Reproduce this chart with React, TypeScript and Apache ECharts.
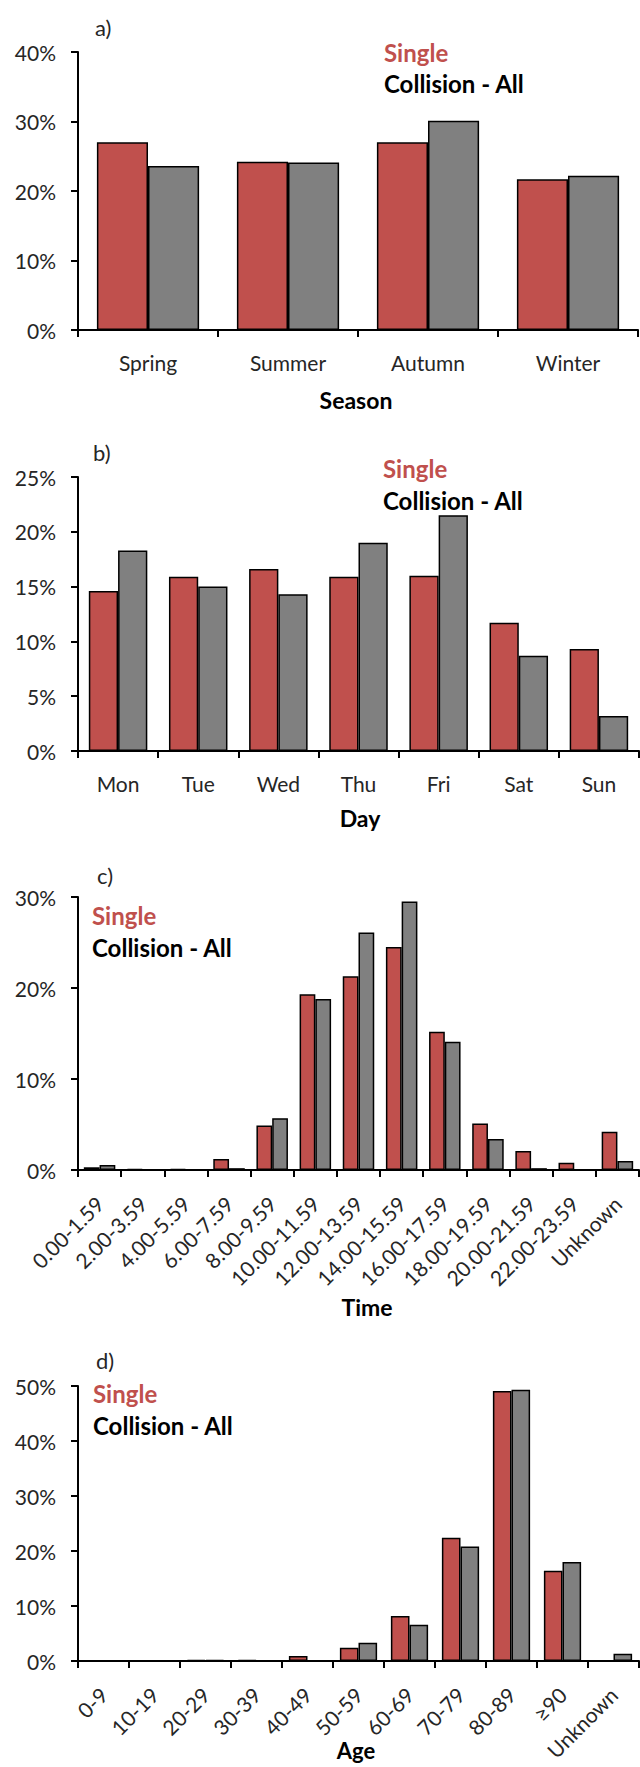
import React, { useEffect, useRef } from "react";
import * as echarts from "echarts";

const seasons = ["Spring", "Summer", "Autumn", "Winter"];
const seasonSingle = [27.0, 24.2, 27.0, 21.7];
const seasonCollision = [23.6, 24.1, 30.1, 22.2];

const days = ["Mon", "Tue", "Wed", "Thu", "Fri", "Sat", "Sun"];
const daySingle = [14.6, 15.9, 16.6, 15.9, 16.0, 11.7, 9.3];
const dayCollision = [18.3, 15.0, 14.3, 19.0, 21.5, 8.7, 3.2];

const times = [
  "0.00-1.59", "2.00-3.59", "4.00-5.59", "6.00-7.59", "8.00-9.59", "10.00-11.59",
  "12.00-13.59", "14.00-15.59", "16.00-17.59", "18.00-19.59", "20.00-21.59", "22.00-23.59", "Unknown",
];
const timeSingle = [0.3, 0.1, 0.1, 1.2, 4.9, 19.3, 21.3, 24.5, 15.2, 5.1, 2.1, 0.8, 4.2];
const timeCollision = [0.55, 0, 0, 0.2, 5.7, 18.8, 26.1, 29.5, 14.1, 3.4, 0.2, 0, 1.0];

const ages = ["0-9", "10-19", "20-29", "30-39", "40-49", "50-59", "60-69", "70-79", "80-89", "≥90", "Unknown"];
const ageSingle = [0, 0, 0.2, 0.15, 0.9, 2.4, 8.2, 22.4, 49.1, 16.4, 0];
const ageCollision = [0, 0, 0.2, 0, 0, 3.3, 6.6, 20.8, 49.3, 18.0, 1.3];

const yMax = [40, 25, 30, 50];
const yInterval = [10, 5, 10, 10];
const axisNames = ["Season", "Day", "Time", "Age"];
const panelLabels = ["a)", "b)", "c)", "d)"];

const RED = "#C0504D";
const GRAY = "#808080";
const FONT = "Lato";
const TXT = "#262626";

export default function App() {
  const ref = useRef<HTMLDivElement>(null);
  useEffect(() => {
    if (!ref.current) return;
    const chart = echarts.init(ref.current, undefined, { renderer: "svg" });
    const grids = [
      { left: 78, top: 52, width: 560, height: 278 },
      { left: 78, top: 477, width: 561, height: 274 },
      { left: 78, top: 897, width: 561, height: 273 },
      { left: 78, top: 1386, width: 561, height: 275 },
    ];
    const cats = [seasons, days, times, ages];
    const singles = [seasonSingle, daySingle, timeSingle, ageSingle];
    const colls = [seasonCollision, dayCollision, timeCollision, ageCollision];
    const rotated = [false, false, true, true];

    const xAxis = cats.map((c, i) => ({
      type: "category",
      gridIndex: i,
      data: c,
      axisLine: { lineStyle: { color: "#000", width: 2 } },
      axisTick: { show: true, length: 7, lineStyle: { color: "#000", width: 2 } },
      axisLabel: {
        interval: 0,
        rotate: rotated[i] ? 45 : 0,
        margin: rotated[i] ? 30 : 22,
        fontFamily: FONT,
        fontSize: 21,
        color: TXT,
      },
    }));
    const yAxis = yMax.map((m, i) => ({
      type: "value",
      gridIndex: i,
      min: 0,
      max: m,
      interval: yInterval[i],
      splitLine: { show: false },
      axisLine: { show: true, lineStyle: { color: "#000", width: 2 } },
      axisTick: { show: true, length: 7, lineStyle: { color: "#000", width: 2 } },
      axisLabel: { formatter: "{value}%", fontFamily: FONT, fontSize: 21, color: TXT, margin: 22 },
    }));
    const series: any[] = [];
    for (let i = 0; i < 4; i++) {
      series.push({
        type: "bar",
        name: "Single",
        xAxisIndex: i,
        yAxisIndex: i,
        data: singles[i],
        barGap: "0%",
        barCategoryGap: "27%",
        itemStyle: { color: RED, borderColor: "#000", borderWidth: 1.5 },
      });
      series.push({
        type: "bar",
        name: "Collision - All",
        xAxisIndex: i,
        yAxisIndex: i,
        data: colls[i],
        barGap: "0%",
        barCategoryGap: "27%",
        itemStyle: { color: GRAY, borderColor: "#000", borderWidth: 1.5 },
      });
    }

    const legendPos = [
      { x: 384, y: 52, y2: 83 },
      { x: 383, y: 468, y2: 500 },
      { x: 92, y: 915, y2: 947 },
      { x: 93, y: 1393, y2: 1425 },
    ];
    const labelPos = [
      { x: 95, y: 27 },
      { x: 93, y: 452 },
      { x: 97, y: 875 },
      { x: 96, y: 1360 },
    ];
    const namePos = [
      { x: 356, y: 400 },
      { x: 360, y: 818 },
      { x: 367, y: 1307 },
      { x: 356, y: 1750 },
    ];
    const graphic: any[] = [];
    for (let i = 0; i < 4; i++) {
      graphic.push({
        type: "text",
        x: labelPos[i].x,
        y: labelPos[i].y,
        style: { text: panelLabels[i], fontFamily: FONT, fontSize: 22, fill: TXT, textVerticalAlign: "middle" },
      });
      graphic.push({
        type: "text",
        x: legendPos[i].x,
        y: legendPos[i].y,
        style: { text: "Single", fontFamily: FONT, fontSize: 24, fontWeight: "bold", fill: RED, textVerticalAlign: "middle" },
      });
      graphic.push({
        type: "text",
        x: legendPos[i].x,
        y: legendPos[i].y2,
        style: { text: "Collision - All", fontFamily: FONT, fontSize: 24, fontWeight: "bold", fill: "#000", textVerticalAlign: "middle" },
      });
      graphic.push({
        type: "text",
        x: namePos[i].x,
        y: namePos[i].y,
        style: {
          text: axisNames[i],
          fontFamily: FONT,
          fontSize: i === 3 ? 22 : 23,
          fontWeight: "bold",
          fill: "#000",
          textAlign: "center",
          textVerticalAlign: "middle",
        },
      });
    }

    chart.setOption({
      animation: false,
      backgroundColor: "#fff",
      grid: grids,
      xAxis,
      yAxis,
      series,
      graphic,
    });
    return () => chart.dispose();
  }, []);
  return (
    <div
      ref={ref}
      style={{ position: "absolute", left: 0, top: 0, width: 640, height: 1767 }}
    />
  );
}
